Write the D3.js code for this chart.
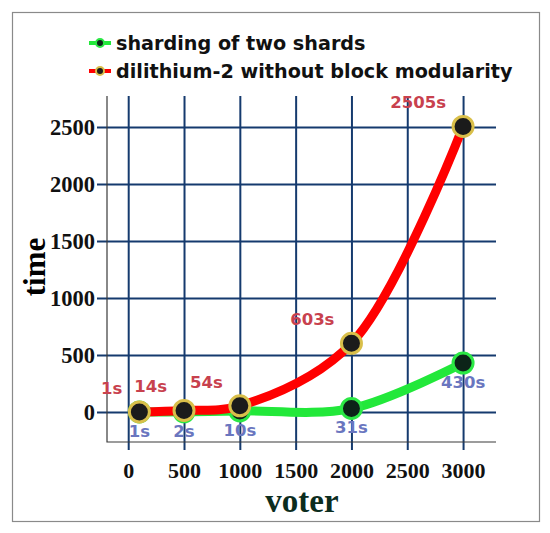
<!DOCTYPE html>
<html>
<head>
<meta charset="utf-8">
<script src="https://cdn.jsdelivr.net/npm/d3@7"></script>
<style>
  body { margin: 0; background: #fff; }
  svg { display: block; }
</style>
</head>
<body>
<svg id="chart"></svg>
<script>
// data
const voters = [100, 500, 1000, 2000, 3000];
const shardTimes = [1, 2, 10, 31, 430];
const dilithiumTimes = [1, 14, 54, 603, 2505];
const xTicks = [0, 500, 1000, 1500, 2000, 2500, 3000];
const yTicks = [0, 500, 1000, 1500, 2000, 2500];
const seriesNames = ["sharding of two shards", "dilithium-2 without block modularity"];

const W = 550, H = 533;
const plot = {left: 107, right: 496, top: 96, bottom: 442};

const svg = d3.select("#chart").attr("width", W).attr("height", H);

// outer frame
svg.append("rect")
    .attr("x", 12.5).attr("y", 12.5)
    .attr("width", 527).attr("height", 509)
    .attr("fill", "none").attr("stroke", "#8a8a8a").attr("stroke-width", 1.2);

const x = d3.scaleLinear().domain([-190, 3295]).range([plot.left, plot.right]);
const y = d3.scaleLinear().domain([-263, 2772]).range([plot.bottom, plot.top]);

const gridColor = "#153a6e";
const serif = "'Liberation Serif', 'Times New Roman', serif";
const sans = "'DejaVu Sans', Verdana, sans-serif";

// y grid + labels
const yAxis = d3.axisLeft(y).tickValues(yTicks).tickFormat(d3.format("d"))
    .tickSizeInner(-(plot.right - 97)).tickSizeOuter(0).tickPadding(2);
const gy = svg.append("g").attr("transform", "translate(97,0)").call(yAxis);
gy.select(".domain").remove();
gy.selectAll(".tick line").attr("stroke", gridColor).attr("stroke-width", 2);
gy.selectAll(".tick text")
    .attr("font-family", serif).attr("font-weight", "bold")
    .attr("font-size", 22.5).attr("fill", "#111");

// x grid + labels
const xAxis = d3.axisBottom(x).tickValues(xTicks).tickFormat(d3.format("d"))
    .tickSizeInner(-(450 - plot.top)).tickSizeOuter(0).tickPadding(12);
const gx = svg.append("g").attr("transform", "translate(0,450)").call(xAxis);
gx.select(".domain").remove();
gx.selectAll(".tick line").attr("stroke", gridColor).attr("stroke-width", 2);
gx.selectAll(".tick text")
    .attr("font-family", serif).attr("font-weight", "bold")
    .attr("font-size", 22).attr("fill", "#111");

// plot frame (left + bottom)
svg.append("path")
    .attr("d", `M${plot.left},${plot.top}V${plot.bottom}H${plot.right}`)
    .attr("fill", "none").attr("stroke", "#3a3a3a").attr("stroke-width", 1.2);

// axis titles
svg.append("text")
    .attr("transform", "translate(45,267) rotate(-90)")
    .attr("text-anchor", "middle")
    .attr("font-family", serif).attr("font-weight", "bold")
    .attr("font-size", 31).attr("fill", "#000")
    .text("time");

svg.append("text")
    .attr("x", 302).attr("y", 512)
    .attr("text-anchor", "middle")
    .attr("font-family", serif).attr("font-weight", "bold")
    .attr("font-size", 33).attr("fill", "#0c2d1e")
    .text("voter");

const series = [
    {values: shardTimes, line: "#22e83a", ring: "#2be845", fill: "#0c2418", label: "#6a76bf"},
    {values: dilithiumTimes, line: "#ff0000", ring: "#d9bf4a", fill: "#1b1b1b", label: "#c8414e"}
];

const line = d3.line()
    .x(d => x(d[0]))
    .y(d => y(d[1]))
    .curve(d3.curveCatmullRom);

series.forEach((s, i) => {
    const pts = voters.map((v, j) => [v, s.values[j]]);
    const g = svg.append("g");
    g.append("path")
        .attr("d", line(pts))
        .attr("fill", "none").attr("stroke", s.line)
        .attr("stroke-width", 9).attr("stroke-linecap", "round");
    g.selectAll("circle").data(pts).join("circle")
        .attr("cx", d => x(d[0])).attr("cy", d => y(d[1]))
        .attr("r", 10)
        .attr("fill", s.fill).attr("stroke", s.ring).attr("stroke-width", 3);
    s.group = g;
    s.pts = pts;
});

// value labels
series[0].group.selectAll("text.val").data(series[0].pts).join("text")
    .attr("class", "val")
    .attr("x", d => x(d[0])).attr("y", d => y(d[1]) + 25)
    .attr("text-anchor", "middle")
    .attr("font-family", sans).attr("font-weight", "bold")
    .attr("font-size", 16.5).attr("fill", series[0].label)
    .text(d => d[1] + "s");

series[1].group.selectAll("text.val").data(series[1].pts).join("text")
    .attr("class", "val")
    .attr("x", d => x(d[0]) - 17).attr("y", d => y(d[1]) - 18)
    .attr("text-anchor", "end")
    .attr("font-family", sans).attr("font-weight", "bold")
    .attr("font-size", 16.5).attr("fill", series[1].label)
    .text(d => d[1] + "s");

// legend
const legend = svg.append("g");
seriesNames.forEach((name, i) => {
    const s = series[i];
    const ly = 43 + i * 28;
    legend.append("line")
        .attr("x1", 89).attr("x2", 111).attr("y1", ly).attr("y2", ly)
        .attr("stroke", s.line).attr("stroke-width", 4);
    legend.append("circle")
        .attr("cx", 100).attr("cy", ly).attr("r", 4)
        .attr("fill", s.fill).attr("stroke", s.ring).attr("stroke-width", 2);
    legend.append("text")
        .attr("x", 116).attr("y", ly + 7)
        .attr("font-family", sans).attr("font-weight", "bold")
        .attr("font-size", 19.2).attr("fill", "#111")
        .text(name);
});
</script>
</body>
</html>
